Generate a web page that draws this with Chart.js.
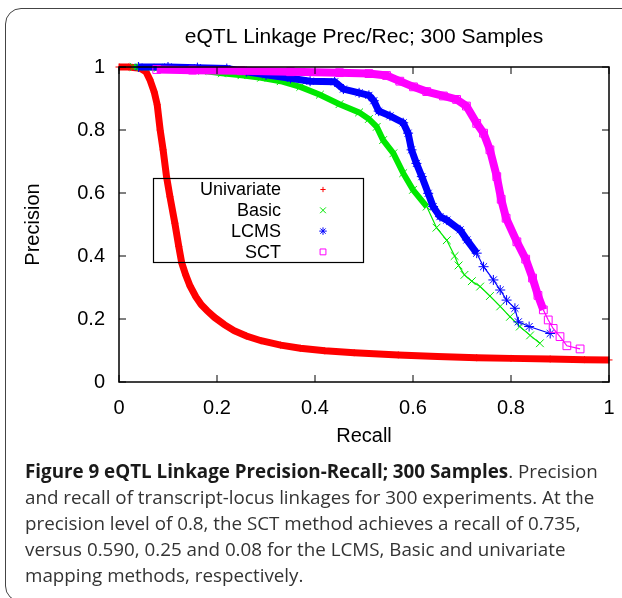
<!DOCTYPE html>
<html>
<head>
<meta charset="utf-8">
<script src="https://cdn.jsdelivr.net/npm/chart.js@4/dist/chart.umd.min.js"></script>
<style>
html, body { margin: 0; padding: 0; background: #fff; overflow: hidden; }
#box { position: absolute; left: 5px; top: 8px; width: 680px; height: 592px; border: 1px solid #444; border-radius: 16px; }
#plot { position: absolute; left: 0; top: 0; }
#caption { position: absolute; left: 25px; top: 458px; font-family: "Open Sans", sans-serif; font-size: 18.8px; line-height: 26px; color: #333; white-space: nowrap; }
#caption b { color: #1a1a1a; }
</style>
</head>
<body>
<div id="box"></div>
<canvas id="plot" width="622" height="460"></canvas>
<div id="caption">
<b>Figure 9 eQTL Linkage Precision-Recall; 300 Samples</b>. Precision<br>
and recall of transcript-locus linkages for 300 experiments. At the<br>
precision level of 0.8, the SCT method achieves a recall of 0.735,<br>
versus 0.590, 0.25 and 0.08 for the LCMS, Basic and univariate<br>
mapping methods, respectively.
</div>
<script>
// --- DATA ---
const seriesNames = ['Univariate', 'Basic', 'LCMS', 'SCT'];

const recallUni = [0, 0.02, 0.043, 0.055, 0.063, 0.072, 0.078, 0.084, 0.090, 0.097, 0.104, 0.114, 0.122, 0.128, 0.136, 0.145, 0.157, 0.168, 0.18, 0.195, 0.215, 0.235, 0.26, 0.29, 0.33, 0.37, 0.42, 0.48, 0.57, 0.65, 0.73, 0.80, 0.88, 0.95, 1.0];
const precUni   = [1.0, 1.0, 0.996, 0.985, 0.96, 0.92, 0.88, 0.80, 0.737, 0.652, 0.588, 0.504, 0.43, 0.378, 0.34, 0.305, 0.27, 0.245, 0.226, 0.205, 0.182, 0.163, 0.146, 0.131, 0.117, 0.107, 0.099, 0.093, 0.086, 0.081, 0.077, 0.075, 0.073, 0.071, 0.070];

const recallBasic = [0.03, 0.08, 0.13, 0.17, 0.21, 0.25, 0.29, 0.33, 0.37, 0.41, 0.45, 0.49, 0.51, 0.526, 0.539, 0.56, 0.58, 0.60, 0.628, 0.648, 0.669, 0.685, 0.693, 0.705, 0.72, 0.737, 0.757, 0.778, 0.798, 0.818, 0.839, 0.859];
const precBasic   = [1.0, 0.998, 0.995, 0.988, 0.98, 0.974, 0.966, 0.955, 0.937, 0.912, 0.882, 0.856, 0.835, 0.81, 0.768, 0.726, 0.663, 0.61, 0.557, 0.49, 0.45, 0.40, 0.37, 0.34, 0.32, 0.303, 0.273, 0.24, 0.207, 0.176, 0.148, 0.123];

const recallLcms = [0.04, 0.10, 0.16, 0.22, 0.26, 0.30, 0.35, 0.39, 0.44, 0.458, 0.49, 0.51, 0.52, 0.53, 0.553, 0.58, 0.59, 0.597, 0.607, 0.618, 0.631, 0.641, 0.655, 0.669, 0.696, 0.71, 0.73, 0.744, 0.764, 0.778, 0.791, 0.808, 0.815, 0.837, 0.88];
const precLcms   = [1.0, 1.0, 0.998, 0.995, 0.985, 0.975, 0.964, 0.955, 0.953, 0.93, 0.918, 0.91, 0.893, 0.86, 0.845, 0.823, 0.79, 0.737, 0.694, 0.652, 0.599, 0.557, 0.525, 0.514, 0.483, 0.451, 0.409, 0.366, 0.324, 0.292, 0.26, 0.234, 0.191, 0.176, 0.154];

const recallSct = [0.077, 0.15, 0.25, 0.35, 0.45, 0.51, 0.546, 0.573, 0.601, 0.628, 0.662, 0.689, 0.709, 0.73, 0.744, 0.757, 0.771, 0.78, 0.79, 0.812, 0.83, 0.844, 0.855, 0.866, 0.876, 0.886, 0.9, 0.914, 0.941];
const precSct   = [0.992, 0.99, 0.988, 0.985, 0.982, 0.979, 0.973, 0.955, 0.937, 0.922, 0.908, 0.897, 0.876, 0.821, 0.79, 0.737, 0.652, 0.58, 0.52, 0.445, 0.39, 0.33, 0.275, 0.229, 0.197, 0.17, 0.144, 0.115, 0.105];

const axisTicks = [0, 0.2, 0.4, 0.6, 0.8, 1];
const tickLabels = ['0', '0.2', '0.4', '0.6', '0.8', '1'];

// --- STYLE ---
const FONT = '"Liberation Sans", Arial, sans-serif';
const colors = ['#ff0000', '#00e800', '#0000ff', '#ff00ff'];
const pointStyles = ['cross', 'crossRot', 'star', 'rect'];
const pointSizes = [3.5, 5.5, 5, 5.5];
const tailFrom = [2, 0.64, 0.74, 0.87];   // where markers stop overlapping
const bandWidths = [7, 6, 7, 8];

function toPoints(xs, ys) {
    return xs.map((x, i) => ({ x: x, y: ys[i] }));
}

function tickText(value) {
    const idx = axisTicks.findIndex(t => Math.abs(t - value) < 1e-6);
    return idx >= 0 ? tickLabels[idx] : '';
}

const allSeries = [
    toPoints(recallUni, precUni),
    toPoints(recallBasic, precBasic),
    toPoints(recallLcms, precLcms),
    toPoints(recallSct, precSct)
];

const datasets = allSeries.map((pts, i) => ({
    label: seriesNames[i],
    data: pts,
    showLine: true,
    order: 4 - i,
    clip: 8,
    borderColor: colors[i],
    backgroundColor: 'rgba(0,0,0,0)',
    pointStyle: pointStyles[i],
    pointRadius: pointSizes[i],
    pointBorderWidth: 1,
    pointBorderColor: colors[i],
    pointBackgroundColor: 'rgba(0,0,0,0)',
    segment: {
        borderWidth: ctx => ctx.p1.parsed.x > tailFrom[i] ? 1.2 : bandWidths[i]
    }
}));

// --- frame, inward ticks, title and the boxed key (gnuplot look) ---
const gnuplotDecor = {
    id: 'gnuplotDecor',
    afterDraw(chart) {
        const ctx = chart.ctx;
        const area = chart.chartArea;
        const xs = chart.scales.x;
        const ys = chart.scales.y;
        ctx.save();

        // title
        ctx.fillStyle = '#000';
        ctx.font = '21px ' + FONT;
        ctx.textAlign = 'center';
        ctx.textBaseline = 'middle';
        ctx.fillText('eQTL Linkage Prec/Rec; 300 Samples', (area.left + area.right) / 2, 37);

        // frame
        ctx.strokeStyle = '#000';
        ctx.lineWidth = 1.5;
        ctx.strokeRect(area.left, area.top, area.right - area.left, area.bottom - area.top);

        // inward ticks on all four sides
        ctx.lineWidth = 1;
        ctx.beginPath();
        axisTicks.forEach(v => {
            const px = xs.getPixelForValue(v);
            ctx.moveTo(px, area.bottom); ctx.lineTo(px, area.bottom - 7);
            ctx.moveTo(px, area.top); ctx.lineTo(px, area.top + 7);
            const py = ys.getPixelForValue(v);
            ctx.moveTo(area.left, py); ctx.lineTo(area.left + 7, py);
            ctx.moveTo(area.right, py); ctx.lineTo(area.right - 7, py);
        });
        ctx.stroke();

        // key box
        ctx.lineWidth = 1.2;
        ctx.strokeRect(153.5, 178.5, 210, 84);
        ctx.font = '18px ' + FONT;
        ctx.textAlign = 'right';
        seriesNames.forEach((name, i) => {
            const rowY = 189.5 + i * 20.8;
            ctx.fillStyle = '#000';
            ctx.fillText(name, 281, rowY + 1);
            ctx.strokeStyle = colors[i];
            ctx.fillStyle = 'rgba(0,0,0,0)';
            ctx.lineWidth = 1;
            Chart.helpers.drawPoint(ctx, { pointStyle: pointStyles[i], radius: pointSizes[i] * 0.75, rotation: 0, borderWidth: 1 }, 323, rowY);
        });
        ctx.restore();
    }
};

const tickFont = { family: FONT, size: 20 };

new Chart(document.getElementById('plot'), {
    type: 'scatter',
    data: { datasets: datasets },
    options: {
        responsive: false,
        animation: false,
        layout: { padding: { left: 0, top: 67, right: 13, bottom: 8 } },
        plugins: {
            legend: { display: false },
            tooltip: { enabled: false },
            title: { display: false }
        },
        scales: {
            x: {
                type: 'linear', min: 0, max: 1,
                ticks: { stepSize: 0.2, padding: 14, color: '#000', font: tickFont, maxRotation: 0, callback: tickText },
                grid: { display: false, drawTicks: false },
                border: { display: false },
                title: { display: true, text: 'Recall', color: '#000', font: tickFont, padding: { top: 0, bottom: 4 } },
                afterFit: s => { s.height = 70; s.paddingLeft = 0; s.paddingRight = 0; }
            },
            y: {
                type: 'linear', min: 0, max: 1,
                ticks: { stepSize: 0.2, padding: 14, color: '#000', font: tickFont, callback: tickText },
                grid: { display: false, drawTicks: false },
                border: { display: false },
                title: { display: true, text: 'Precision', color: '#000', font: tickFont, padding: { top: 21, bottom: 0 } },
                afterFit: s => { s.width = 119; s.paddingTop = 0; s.paddingBottom = 0; }
            }
        }
    },
    plugins: [gnuplotDecor]
});
</script>
</body>
</html>
